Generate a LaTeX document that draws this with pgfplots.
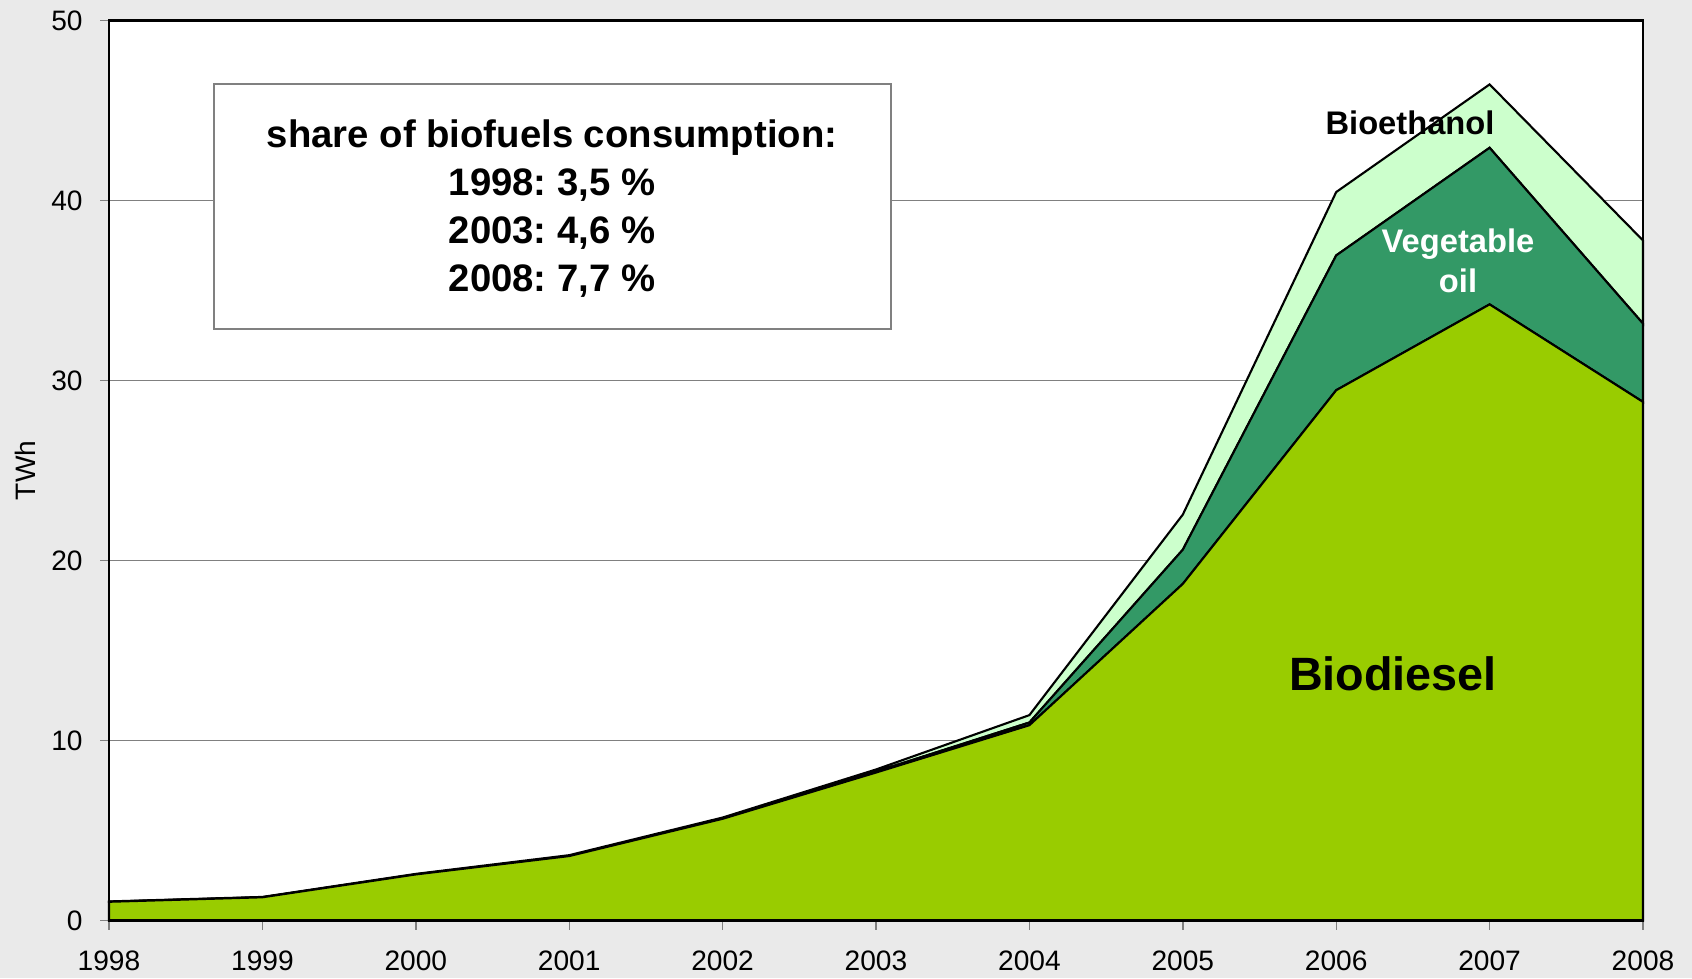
\documentclass[border=0pt]{standalone}
\usepackage{fontspec}
\setmainfont{Liberation Sans}
\usepackage{pgfplots}
\pgfplotsset{compat=1.18}
\definecolor{bgc}{HTML}{EAEAEA}
\definecolor{bdiesel}{HTML}{99CC00}
\definecolor{vegoil}{HTML}{339966}
\definecolor{bethanol}{HTML}{CCFFCC}
\definecolor{gridc}{HTML}{808080}
\frenchspacing
\begin{document}
\begin{tikzpicture}
\path[use as bounding box, fill=bgc] (-10.9mm,-5.75mm) rectangle (158.3mm,92.05mm);
\begin{axis}[
  at={(0,0)}, anchor=origin,
  scale only axis, width=153.4mm, height=90mm,
  xmin=1998, xmax=2008, ymin=0, ymax=50,
  xtick={1998,1999,2000,2001,2002,2003,2004,2005,2006,2007,2008},
  xticklabels={1998,1999,2000,2001,2002,2003,2004,2005,2006,2007,2008},
  ytick={0,10,20,30,40,50},
  yticklabels={0,10,20,30,40,50},
  tick align=outside,
  major tick length=0.9mm,
  xtick pos=bottom, ytick pos=left,
  tick style={gridc, line width=0.4pt},
  ymajorgrids, grid style={gridc, line width=0.5pt},
  ticklabel style={font=\fontsize{8}{9.6}\selectfont},
  xticklabel style={yshift=-0.9mm},
  yticklabel style={xshift=-0.5mm},
  axis line style={black, line width=0.6pt},
  axis background/.style={fill=white},
  stack plots=y,
  clip=false,
]
\addplot[draw=black, line width=0.6pt, fill=bdiesel] coordinates {
(1998,1.04) (1999,1.29) (2000,2.56) (2001,3.58) (2002,5.65) (2003,8.22)
(2004,10.85) (2005,18.7) (2006,29.46) (2007,34.23) (2008,28.81)} \closedcycle;
\addplot[draw=black, line width=0.6pt, fill=vegoil] coordinates {
(1998,0) (1999,0) (2000,0) (2001,0) (2002,0.02) (2003,0.05)
(2004,0.15) (2005,1.9) (2006,7.49) (2007,8.70) (2008,4.35)} \closedcycle;
\addplot[draw=black, line width=0.6pt, fill=bethanol] coordinates {
(1998,0.02) (1999,0.02) (2000,0.03) (2001,0.05) (2002,0.05) (2003,0.12)
(2004,0.41) (2005,1.95) (2006,3.52) (2007,3.52) (2008,4.62)} \closedcycle;
\end{axis}
\draw[black, line width=0.6pt] (0,0) rectangle (153.4mm,90mm);
\node[rotate=90, font=\fontsize{8}{9.6}\selectfont] at (-8.4mm,45mm) {TWh};
\draw[fill=white, draw=gridc, line width=0.4pt] (10.5mm,59.15mm) rectangle (78.2mm,83.65mm);
\node[align=center, font=\fontsize{10.9}{13.7}\selectfont\bfseries] at (44.3mm,71.2mm)
  {share of biofuels consumption:\\1998: 3,5 \%\\2003: 4,6 \%\\2008: 7,7 \%};
\node[font=\fontsize{13.3}{16}\selectfont\bfseries] at (128.4mm,24.65mm) {Biodiesel};
\node[font=\fontsize{9.3}{11}\selectfont\bfseries] at (130.1mm,79.75mm) {Bioethanol};
\node[align=center, text=white, font=\fontsize{9.3}{11.35}\selectfont\bfseries] at (134.9mm,66.0mm) {Vegetable\\oil};
\end{tikzpicture}
\end{document}
